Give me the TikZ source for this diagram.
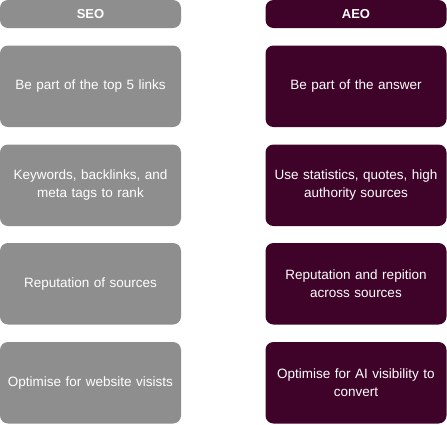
\documentclass[tikz,border=0pt]{standalone}
\usepackage{fontspec}
\setmainfont{Liberation Sans}
\definecolor{seogray}{HTML}{8E8E8E}
\definecolor{aeoplum}{HTML}{3F0329}
\begin{document}
\begin{tikzpicture}[x=1pt,y=-1pt,
  card/.style={rounded corners=8pt, draw=none, text=white, align=center, font=\fontsize{13.5}{17.5}\selectfont, minimum width=181pt, minimum height=81.5pt, inner sep=0pt, text width=178pt},
  head/.style={rounded corners=8pt, draw=none, text=white, align=center, font=\fontsize{13}{16}\selectfont\bfseries, minimum width=181pt, minimum height=28pt, inner sep=0pt},
  seo/.style={fill=seogray},
  aeo/.style={fill=aeoplum}]
\useasboundingbox (0,0) rectangle (447,424);
\node[head,seo] (h1) at (90.5,14) {SEO};
\node[head,aeo] (h2) at (356,14) {AEO};
\node[card,seo] (l1) at (90.5,86.25) {Be part of the top 5 links};
\node[card,seo] (l2) at (90.5,185.25) {Keywords, backlinks, and\\meta tags to rank};
\node[card,seo] (l3) at (90.5,283.75) {Reputation of sources};
\node[card,seo] (l4) at (90.5,382.75) {Optimise for website visists};
\node[card,aeo] (r1) at (356,86.25) {Be part of the answer};
\node[card,aeo] (r2) at (356,185.25) {Use statistics, quotes, high\\authority sources};
\node[card,aeo] (r3) at (356,283.75) {Reputation and repition\\across sources};
\node[card,aeo] (r4) at (356,382.75) {Optimise for AI visibility to\\convert};
\end{tikzpicture}
\end{document}
